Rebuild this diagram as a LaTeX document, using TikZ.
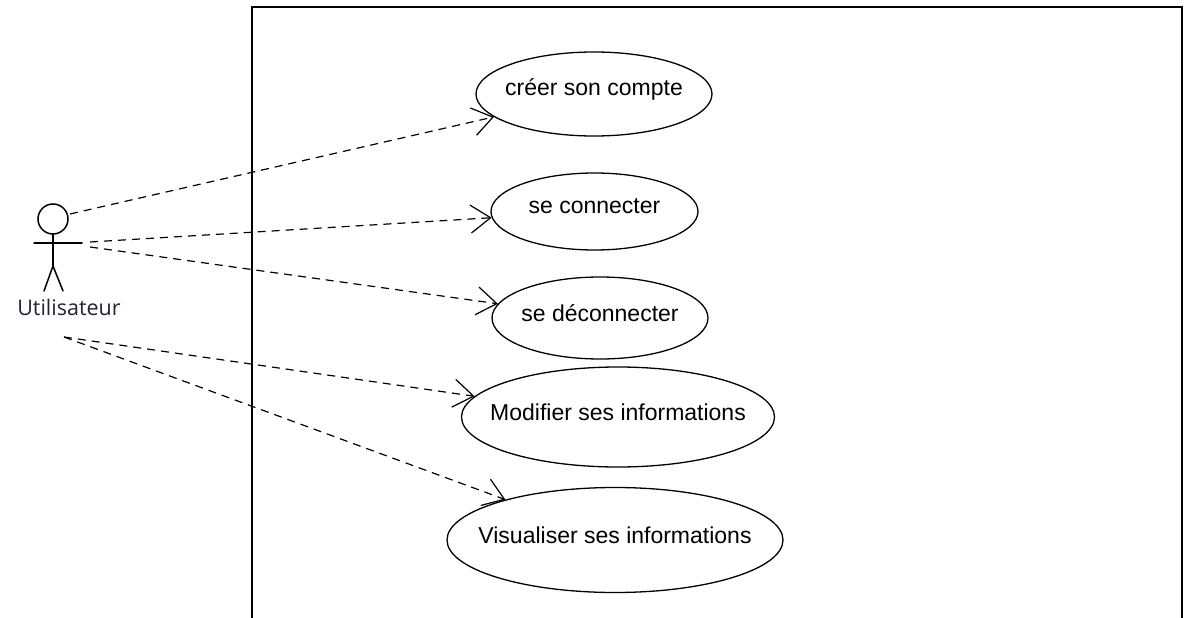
\documentclass[tikz,border=0pt]{standalone}
\usepackage{fontspec}
\setmainfont{Liberation Sans}
\newfontfamily\actorfont{Open Sans}
\usetikzlibrary{shapes.geometric,arrows.meta}
\definecolor{actortext}{RGB}{30,36,52}
\tikzset{
  usecase/.style={draw=black, line width=1.3pt, ellipse, inner sep=0pt, fill=white},
  uclabel/.style={font=\fontsize{23}{27}\selectfont, yshift=5pt},
  assoc/.style={draw=black, line width=1.2pt, dash pattern=on 8pt off 6pt,
    -{Straight Barb[length=20pt,width=28pt,line width=1.2pt]}},
  actorline/.style={line width=1.5pt, line cap=round},
}
\begin{document}
\begin{tikzpicture}[x=1pt,y=-1pt]
\useasboundingbox (0,0) rectangle (1184,618);
% system boundary
\draw[line width=2pt] (252,620) -- (252,7) -- (1182,7) -- (1182,620);
% actor
\draw[actorline] (53,219) circle (15);
\draw[actorline] (34,243) -- (82,243);
\draw[actorline] (53,234) -- (53,266);
\draw[actorline] (44,291) -- (53,266) -- (63,291);
\node[font=\actorfont\fontsize{21.5}{25}\selectfont, text=actortext] (actor) at (69,307) {Utilisateur};
\coordinate (a1) at (70,214);
\coordinate (a2) at (90,242);
\coordinate (a3) at (90,247);
\coordinate (a4) at (64,337);
% use cases
\node[usecase, minimum width=236pt, minimum height=84pt, label={[uclabel]center:créer son compte}] (uc1) at (594,94) {};
\node[usecase, minimum width=207pt, minimum height=77pt, label={[uclabel]center:se connecter}] (uc2) at (594.5,211.5) {};
\node[usecase, minimum width=216pt, minimum height=82pt, label={[uclabel]center:se déconnecter}] (uc3) at (600,318) {};
\node[usecase, minimum width=313pt, minimum height=100pt, label={[uclabel]center:Modifier ses informations}] (uc4) at (618,417) {};
\node[usecase, minimum width=336pt, minimum height=105pt, label={[uclabel]center:Visualiser ses informations}] (uc5) at (615,540) {};
% associations
\draw[assoc] (a1) -- (uc1);
\draw[assoc] (a2) -- (uc2);
\draw[assoc] (a3) -- (uc3);
\draw[assoc] (a4) -- (uc4);
\draw[assoc] (a4) -- (uc5);
\end{tikzpicture}
\end{document}
